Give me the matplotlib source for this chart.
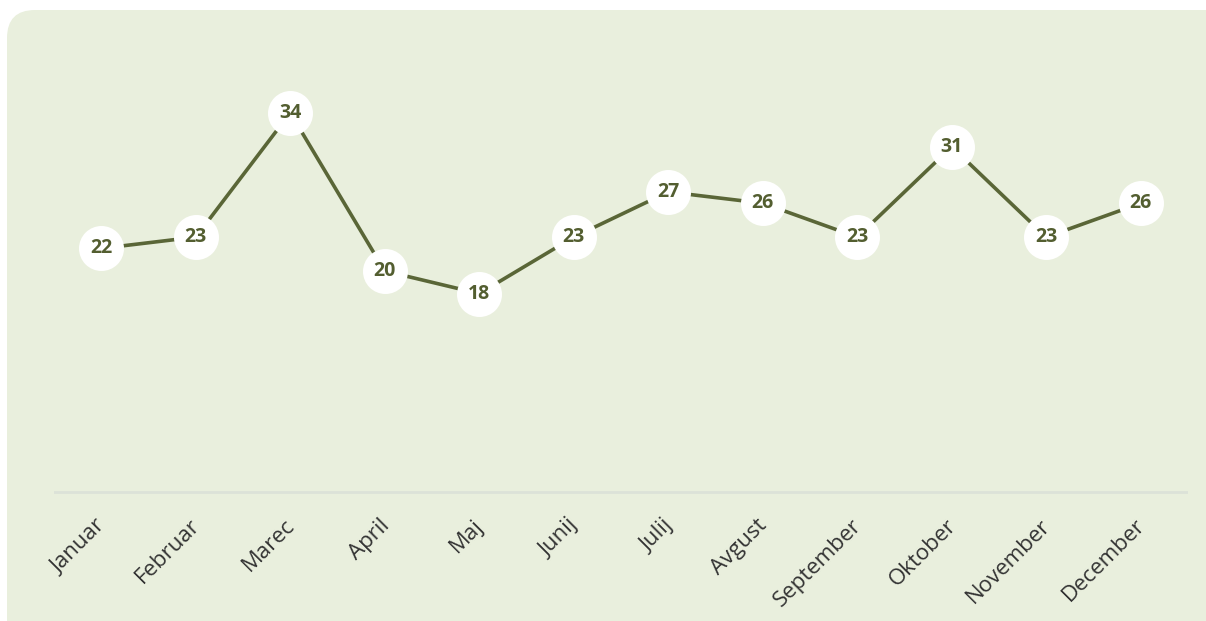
import matplotlib.pyplot as plt
from matplotlib.patches import FancyBboxPatch
from matplotlib.transforms import ScaledTranslation

months = ['Januar', 'Februar', 'Marec', 'April', 'Maj', 'Junij',
          'Julij', 'Avgust', 'September', 'Oktober', 'November', 'December']
values = [22, 23, 34, 20, 18, 23, 27, 26, 23, 31, 23, 26]

W, H = 1206, 621
fig = plt.figure(figsize=(W / 100, H / 100), dpi=100)
fig.patch.set_facecolor('white')

# rounded panel background (in pixels of a full-figure background axes)
bg = fig.add_axes([0, 0, 1, 1], zorder=0)
bg.set_xlim(0, W)
bg.set_ylim(H, 0)
bg.axis('off')
panel = FancyBboxPatch((7, 10), W + 40, H + 40,
                       boxstyle='round,pad=0,rounding_size=28',
                       facecolor='#E9EFDD', edgecolor='none')
bg.add_patch(panel)

# axes: x 54..1188, y 0 at 497 px, 40 at 45 px
ax = fig.add_axes([54 / W, 1 - 497 / H, (1188 - 54) / W, (497 - 45) / H], zorder=1)
ax.set_facecolor('none')

x = list(range(len(months)))
ax.plot(x, values, color='#5A6637', linewidth=2.6, zorder=2)
ax.scatter(x, values, s=1050, color='white', zorder=3, linewidths=0)
for xi, v in zip(x, values):
    ax.text(xi, v, str(v), ha='center', va='center', fontsize=14,
            fontweight='bold', color='#535E30', family='Open Sans', zorder=4)

ax.set_xlim(-0.5, len(months) - 0.5)
ax.set_ylim(0, 40)
ax.axhline(0.45, color='#DCE2D8', linewidth=2, zorder=1)

for s in ax.spines.values():
    s.set_visible(False)
ax.set_yticks([])
ax.set_xticks(x)
ax.set_xticklabels(months, rotation=45, ha='right', rotation_mode='anchor',
                   fontsize=16, color='#333333', family='Open Sans')
ax.tick_params(axis='x', length=0, pad=13)
shift = ScaledTranslation(-6 / 100, 0, fig.dpi_scale_trans)
for lbl in ax.get_xticklabels():
    lbl.set_transform(lbl.get_transform() + shift)

fig.savefig('out.png', dpi=100)
